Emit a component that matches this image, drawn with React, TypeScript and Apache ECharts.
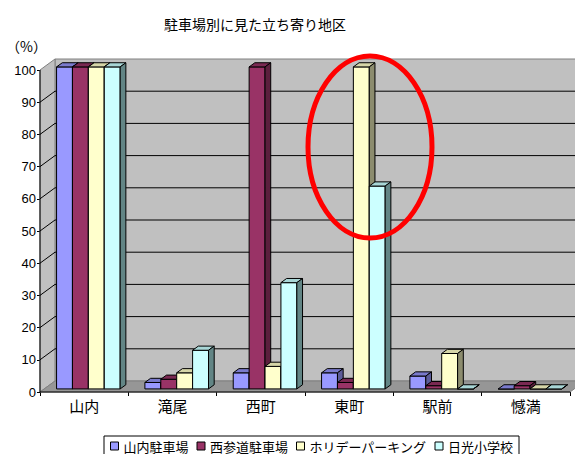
import React, { useEffect, useRef } from "react";
import * as echarts from "echarts";

const title = "駐車場別に見た立ち寄り地区";
const unitLabel = "（%）";
const categories = ["山内", "滝尾", "西町", "東町", "駅前", "憾満"];
const seriesNames = ["山内駐車場", "西参道駐車場", "ホリデーパーキング", "日光小学校"];
const sannaiParking = [100, 2, 5, 5, 4, 0];
const nishisandoParking = [100, 3, 100, 2, 1, 1];
const holidayParking = [100, 5, 7, 100, 11, 0];
const nikkoSchool = [100, 12, 33, 63, 0, 0];
const yTicks = [0, 10, 20, 30, 40, 50, 60, 70, 80, 90, 100];

const frontColors = ["#9999FF", "#993366", "#FFFFCC", "#CCFFFF"];
const topColors = ["#7A7ACC", "#7A2952", "#D6D6A8", "#A8D6D6"];
const sideColors = ["#5C5C99", "#5C1F3D", "#8C8C6E", "#628585"];

const DX = 15;
const DY = 11;
const F0 = 0.28;
const F1 = 0.66;
const BAR_FRAC = 0.18;

export default function App() {
  const ref = useRef<HTMLDivElement>(null);
  useEffect(() => {
    if (!ref.current) return;
    const chart = echarts.init(ref.current, undefined, { renderer: "svg" });
    const seriesValues = [sannaiParking, nishisandoParking, holidayParking, nikkoSchool];
    const yMax = yTicks[yTicks.length - 1];

    const wallSeries: any = {
      type: "custom",
      z: 1,
      silent: true,
      clip: false,
      data: [[0, 0]],
      encode: { x: 0, y: 1 },
      renderItem: (params: any, api: any) => {
        const c0 = api.coord([0, 0]);
        const band = api.size([1, 0])[0];
        const xL = c0[0] - band / 2;
        const xR = api.coord([categories.length - 1, 0])[0] + band / 2;
        const y0 = c0[1];
        const yTop = api.coord([0, yMax])[1];
        const children: any[] = [];
        children.push({
          type: "polygon",
          shape: { points: [[xL + DX, yTop - DY], [xR + DX + 30, yTop - DY], [xR + DX + 30, y0 - DY], [xL + DX, y0 - DY]] },
          style: { fill: "#C0C0C0", stroke: "#808080", lineWidth: 1 },
        });
        children.push({
          type: "polygon",
          shape: { points: [[xL, y0], [xL, yTop], [xL + DX, yTop - DY], [xL + DX, y0 - DY]] },
          style: { fill: "#C0C0C0", stroke: "#808080", lineWidth: 1 },
        });
        children.push({
          type: "polygon",
          shape: { points: [[xL, y0], [xR, y0], [xR + DX, y0 - DY], [xL + DX, y0 - DY]] },
          style: { fill: "#969696", stroke: "#808080", lineWidth: 1 },
        });
        yTicks.forEach((t) => {
          if (t === 0 || t === yMax) return;
          const y = api.coord([0, t])[1];
          children.push({
            type: "line",
            shape: { x1: xL + DX, y1: y - DY, x2: xR + DX + 30, y2: y - DY },
            style: { stroke: "#000", lineWidth: 1 },
          });
          children.push({
            type: "line",
            shape: { x1: xL, y1: y, x2: xL + DX, y2: y - DY },
            style: { stroke: "#000", lineWidth: 1 },
          });
        });
        children.push({
          type: "line",
          shape: { x1: xL, y1: yTop, x2: xL, y2: y0 },
          style: { stroke: "#000", lineWidth: 1 },
        });
        children.push({
          type: "line",
          shape: { x1: xL, y1: y0, x2: xR, y2: y0 },
          style: { stroke: "#000", lineWidth: 1 },
        });
        return { type: "group", children };
      },
    };

    const barSeries = seriesNames.map((name, idx) => ({
      type: "custom",
      name,
      z: 2,
      clip: false,
      data: seriesValues[idx].map((v, i) => [i, v]),
      encode: { x: 0, y: 1 },
      itemStyle: { color: frontColors[idx] },
      renderItem: (params: any, api: any) => {
        const ci = api.value(0);
        const v = api.value(1);
        const top = api.coord([ci, v]);
        const base = api.coord([ci, 0]);
        const band = api.size([1, 0])[0];
        const bw = band * BAR_FRAC;
        const ox = F0 * DX;
        const oy = -F0 * DY;
        const dx = (F1 - F0) * DX;
        const dy = (F1 - F0) * DY;
        const x0 = top[0] - 2 * bw + idx * bw + ox;
        const x1 = x0 + bw;
        const yt = top[1] + oy;
        const yb = base[1] + oy;
        return {
          type: "group",
          children: [
            {
              type: "polygon",
              shape: { points: [[x0, yt], [x1, yt], [x1, yb], [x0, yb]] },
              style: { fill: frontColors[idx], stroke: "#000", lineWidth: 1 },
            },
            {
              type: "polygon",
              shape: { points: [[x0, yt], [x1, yt], [x1 + dx, yt - dy], [x0 + dx, yt - dy]] },
              style: { fill: topColors[idx], stroke: "#000", lineWidth: 1 },
            },
            {
              type: "polygon",
              shape: { points: [[x1, yt], [x1 + dx, yt - dy], [x1 + dx, yb - dy], [x1, yb]] },
              style: { fill: sideColors[idx], stroke: "#000", lineWidth: 1 },
            },
          ],
        };
      },
    }));

    chart.setOption({
      animation: false,
      backgroundColor: "#fff",
      title: {
        text: title,
        left: 159,
        top: 12,
        textStyle: { fontSize: 14, fontWeight: "normal", color: "#000", fontFamily: "Noto Sans CJK JP" },
      },
      legend: {
        data: seriesNames,
        left: 104,
        top: 436,
        padding: [3, 6, 3, 6],
        itemGap: 8,
        itemWidth: 8,
        itemHeight: 8,
        icon: "rect",
        borderColor: "#000",
        borderWidth: 1,
        borderRadius: 0,
        itemStyle: { borderColor: "#000", borderWidth: 1 },
        textStyle: { fontSize: 13, lineHeight: 14, color: "#000", fontFamily: "Noto Sans CJK JP" },
      },
      grid: { left: 40, right: 5, top: 70, bottom: 62, containLabel: false },
      xAxis: {
        type: "category",
        data: categories,
        axisLine: { show: false },
        axisTick: { show: true, length: 4, lineStyle: { color: "#000" } },
        splitLine: { show: false },
        axisLabel: { fontSize: 15, color: "#000", margin: 6, fontFamily: "Noto Sans CJK JP" },
      },
      yAxis: {
        type: "value",
        min: 0,
        max: 100,
        interval: 10,
        axisLine: { show: false },
        axisTick: { show: true, length: 3, lineStyle: { color: "#000" } },
        splitLine: { show: false },
        axisLabel: { fontSize: 13, color: "#000", margin: 4, fontFamily: "Liberation Sans" },
      },
      graphic: [
        {
          type: "text",
          left: 6,
          top: 39,
          style: { text: unitLabel, fontSize: 14, fill: "#000", fontFamily: "Noto Sans CJK JP" },
        },
        {
          type: "ellipse",
          shape: { cx: 370, cy: 147, rx: 62, ry: 91 },
          style: { fill: "none", stroke: "#FF0000", lineWidth: 5 },
          z: 100,
        },
      ],
      series: [wallSeries, ...barSeries],
    });
    return () => chart.dispose();
  }, []);
  return <div ref={ref} style={{ position: "fixed", left: 0, top: 0, width: 575, height: 454 }} />;
}
